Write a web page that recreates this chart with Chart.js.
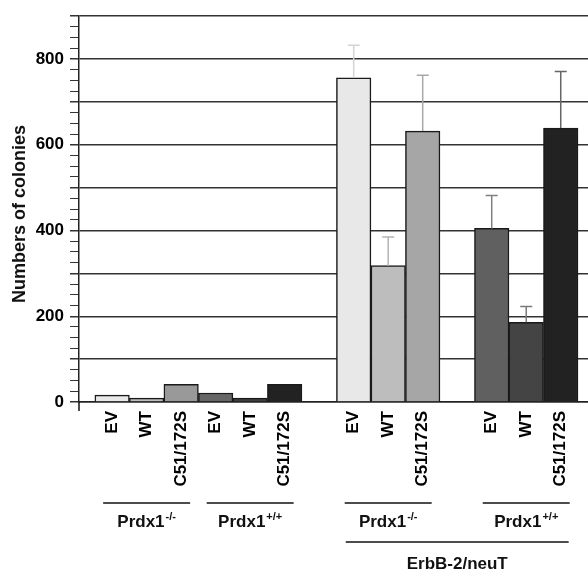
<!DOCTYPE html>
<html>
<head>
<meta charset="utf-8">
<script src="https://cdn.jsdelivr.net/npm/chart.js@4"></script>
<style>
  html, body { margin: 0; padding: 0; background: #fff; }
  canvas { display: block; }
</style>
</head>
<body>
<canvas id="colonyChart" width="588" height="576"></canvas>
<script>
// Catégories (une case vide = espace entre les groupes)
const categories = ['EV', 'WT', 'C51/172S', 'EV', 'WT', 'C51/172S', '', 'EV', 'WT', 'C51/172S', '', 'EV', 'WT', 'C51/172S'];
const colonies = [16, 9, 41, 21, 9, 41, null, 756, 318, 632, null, 405, 186, 639];
const errors = [0, 0, 0, 0, 0, 0, null, 76, 67, 130, null, 77, 37, 132];
const yTickLabels = [0, 200, 400, 600, 800];

// Groupes sous l'axe (indices de catégories)
const groups = [
    { text: 'Prdx1', sup: '-/-', first: 0, last: 2 },
    { text: 'Prdx1', sup: '+/+', first: 3, last: 5 },
    { text: 'Prdx1', sup: '-/-', first: 7, last: 9 },
    { text: 'Prdx1', sup: '+/+', first: 11, last: 13 }
];
const outerGroup = { text: 'ErbB-2/neuT', first: 7, last: 13 };

// Couleurs
const barColors = ['#e8e8e8', '#bdbdbd', '#999999', '#666666', '#404040', '#222222', null,
                   '#e8e8e8', '#bdbdbd', '#a6a6a6', null, '#606060', '#444444', '#222222'];
const errColors = [null, null, null, null, null, null, null,
                   '#d4d4d4', '#b4b4b4', '#a8a8a8', null, '#808080', '#7a7a7a', '#666666'];

const FONT = 'Liberation Sans, Arial, sans-serif';
const shown = categories.map((c, i) => i).filter(i => colonies[i] !== null);

// Barres d'erreur, libellés de groupes et titre de l'axe Y
const annotations = {
    id: 'annotations',
    afterDatasetsDraw(chart) {
        const { ctx, scales: { y } } = chart;
        const meta = chart.getDatasetMeta(0);
        ctx.save();
        ctx.lineWidth = 1.5;
        meta.data.forEach((bar, j) => {
            const i = shown[j];
            if (!errors[i]) return;
            const top = y.getPixelForValue(colonies[i] + errors[i]);
            ctx.strokeStyle = errColors[i];
            ctx.beginPath();
            ctx.moveTo(bar.x, bar.y);
            ctx.lineTo(bar.x, top);
            ctx.moveTo(bar.x - 6, top);
            ctx.lineTo(bar.x + 6, top);
            ctx.stroke();
        });
        ctx.restore();
    },
    afterDraw(chart) {
        const { ctx, chartArea, scales: { x } } = chart;
        ctx.save();
        ctx.strokeStyle = '#111';
        ctx.fillStyle = '#111';
        ctx.lineWidth = 1.5;

        // prolongement de l'axe Y sous zéro
        ctx.beginPath();
        ctx.moveTo(chartArea.left, chartArea.bottom);
        ctx.lineTo(chartArea.left, chartArea.bottom + 9);
        ctx.stroke();

        const drawLabel = (g, halfWidth, lineY, textY) => {
            const center = x.getPixelForValue((g.first + g.last) / 2 + 1);
            const half = x.getPixelForValue(1 + halfWidth) - x.getPixelForValue(1);
            ctx.beginPath();
            ctx.moveTo(center - half, lineY);
            ctx.lineTo(center + half, lineY);
            ctx.stroke();
            ctx.font = 'bold 17px ' + FONT;
            const w1 = ctx.measureText(g.text).width;
            let w2 = 0;
            if (g.sup) {
                ctx.font = 'bold 11px ' + FONT;
                w2 = ctx.measureText(g.sup).width + 1;
            }
            const start = center - (w1 + w2) / 2;
            ctx.textAlign = 'left';
            ctx.textBaseline = 'alphabetic';
            ctx.font = 'bold 17px ' + FONT;
            ctx.fillText(g.text, start, textY);
            if (g.sup) {
                ctx.font = 'bold 11px ' + FONT;
                ctx.fillText(g.sup, start + w1 + 1, textY - 7);
            }
        };
        groups.forEach(g => drawLabel(g, 1.26, 503, 527));
        drawLabel(outerGroup, 3.23, 542, 569);

        // titre de l'axe Y
        ctx.translate(20, 214);
        ctx.rotate(-Math.PI / 2);
        ctx.font = 'bold 18px ' + FONT;
        ctx.textAlign = 'center';
        ctx.textBaseline = 'middle';
        ctx.fillText('Numbers of colonies', 0, 0);
        ctx.restore();
    }
};

function initChart() {
    const ctx = document.getElementById('colonyChart').getContext('2d');
    new Chart(ctx, {
        type: 'bar',
        data: {
            datasets: [{
                data: shown.map(i => ({ x: i + 1, y: colonies[i] })),
                backgroundColor: shown.map(i => barColors[i]),
                borderColor: '#1a1a1a',
                borderWidth: 1.5,
                barPercentage: 1,
                categoryPercentage: 1
            }]
        },
        options: {
            responsive: false,
            animation: false,
            layout: { padding: { top: 6, right: 0, bottom: 0, left: 0 } },
            plugins: {
                legend: { display: false },
                tooltip: { enabled: false }
            },
            scales: {
                x: {
                    type: 'linear',
                    min: 0.04,
                    max: 14.79,
                    offset: false,
                    afterBuildTicks: s => { s.ticks = categories.map((c, i) => ({ value: i + 1 })); },
                    afterFit: s => { s.height = 174; },
                    grid: { display: false, offset: false },
                    border: { color: '#222', width: 1.5 },
                    ticks: {
                        autoSkip: false,
                        minRotation: 90,
                        maxRotation: 90,
                        padding: 1,
                        color: '#000',
                        font: { size: 17, weight: 'bold', family: FONT },
                        callback: v => categories[v - 1] || ''
                    }
                },
                y: {
                    min: 0,
                    max: 900,
                    afterFit: s => { s.width = 79; },
                    border: { color: '#222', width: 1.5 },
                    grid: {
                        color: c => c.tick.value % 100 === 0 ? '#333' : 'rgba(0,0,0,0)',
                        tickColor: '#333',
                        lineWidth: c => c.tick.value % 100 === 0 ? 1.5 : 1,
                        tickLength: 9
                    },
                    ticks: {
                        stepSize: 25,
                        autoSkip: false,
                        padding: 6,
                        color: '#000',
                        font: { size: 17, weight: 'bold', family: FONT },
                        callback: v => yTickLabels.includes(v) ? v : ''
                    }
                }
            }
        },
        plugins: [annotations]
    });
}

document.addEventListener('DOMContentLoaded', initChart);
</script>
</body>
</html>
